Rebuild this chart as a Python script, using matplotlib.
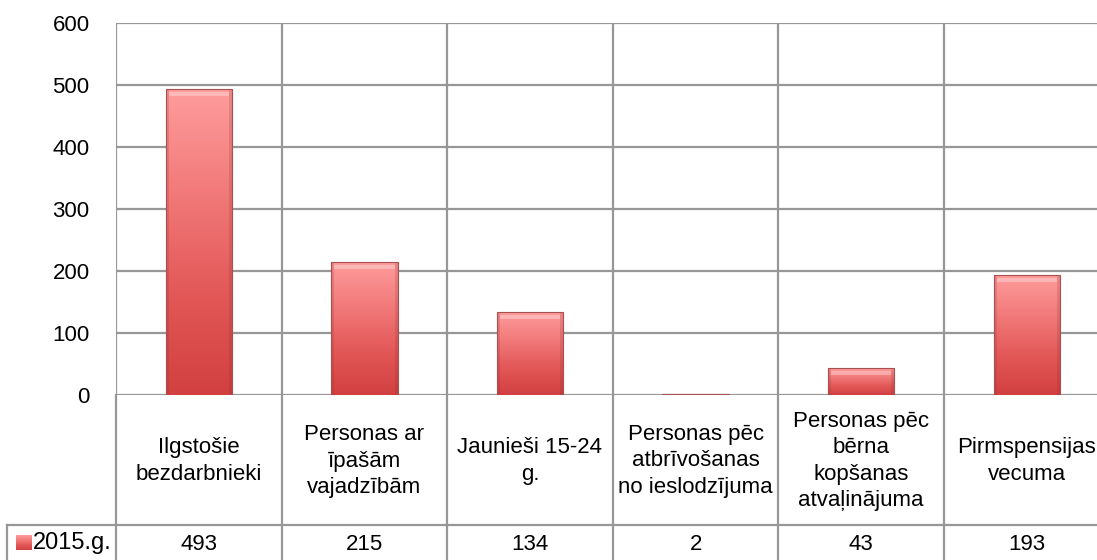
import matplotlib
matplotlib.use('Agg')
import matplotlib.pyplot as plt
import numpy as np
from matplotlib.patches import Rectangle

plt.rcParams['font.family'] = ['Liberation Sans Narrow', 'Liberation Sans', 'DejaVu Sans']

# data
categories = ['Ilgstošie\nbezdarbnieki',
              'Personas ar\nīpašām\nvajadzībām',
              'Jaunieši 15-24\ng.',
              'Personas pēc\natbrīvošanas\nno ieslodzījuma',
              'Personas pēc\nbērna\nkopšanas\natvaļinājuma',
              'Pirmspensijas\nvecuma']
values = [493, 215, 134, 2, 43, 193]
series_name = '2015.g.'
yticks = [0, 100, 200, 300, 400, 500, 600]

W, H = 1097, 560
grid_c = '#979797'
fs = 16

fig = plt.figure(figsize=(W / 100, H / 100), dpi=100)
left_px, top_px, zero_px, cat_w = 116, 23, 395, 165.6
n = len(values)
ax = fig.add_axes([left_px / W, (H - zero_px) / H, n * cat_w / W, (zero_px - top_px) / H])
x = np.arange(n)
ax.set_xlim(-0.5, n - 0.5)
ax.set_ylim(0, 600)
for s in ax.spines.values():
    s.set_visible(False)
ax.set_yticks(yticks)
ax.set_yticklabels([str(t) for t in yticks], fontsize=fs)
ax.tick_params(axis='y', length=0, pad=19)
ax.set_xticks([])
ax.set_xticks(np.arange(-0.5, n), minor=True)
ax.tick_params(axis='x', which='minor', length=0)
ax.grid(axis='y', color=grid_c, lw=1.6)
ax.grid(axis='x', which='minor', color=grid_c, lw=1.6)
ax.set_axisbelow(True)

# gradient bars
px_y = 600 / (zero_px - top_px)   # data units per pixel (y)
px_x = 1 / cat_w                  # data units per pixel (x)
bars = ax.bar(x, values, width=0.4, color='none', edgecolor='#a85050', lw=0.8, zorder=5)
grad = np.linspace(0, 1, 256).reshape(-1, 1)
cmap = matplotlib.colors.LinearSegmentedColormap.from_list(
    'bar', ['#d24040', '#e35858', '#f27a7a', '#ff9c9c'])
for b in bars:
    x0, w, h = b.get_x(), b.get_width(), b.get_height()
    im = ax.imshow(grad, cmap=cmap, aspect='auto', origin='lower',
                   extent=[x0, x0 + w, 0, h], zorder=2)
    im.set_clip_path(b)
    bev = min(h, 7 * px_y)
    # top bevel highlight and darker sides
    ax.add_patch(Rectangle((x0 + 3 * px_x, h - bev), w - 6 * px_x, bev * 0.55,
                           color='white', alpha=0.3, lw=0, zorder=4))
    for sx in (x0, x0 + w - 3 * px_x):
        ax.add_patch(Rectangle((sx, 0), 3 * px_x, h, color='#8a2a2a',
                               alpha=0.18, lw=0, zorder=4))

# data table underneath
tab = fig.add_axes([left_px / W, 0, n * cat_w / W, (H - zero_px) / H])
tab.set_xlim(-0.5, n - 0.5)
tab.set_ylim(H - zero_px, 0)
tab.axis('off')
row1 = 130
legend_x = -0.5 - (left_px - 7) / cat_w
for b in np.arange(-0.5, n):
    tab.plot([b, b], [0, H - zero_px], color=grid_c, lw=1.6, clip_on=False)
tab.plot([legend_x, n - 0.5], [row1, row1], color=grid_c, lw=1.6, clip_on=False)
tab.plot([legend_x, legend_x], [row1, H - zero_px], color=grid_c, lw=1.6, clip_on=False)
for i, c in enumerate(categories):
    tab.text(i, row1 / 2 + 1, c, ha='center', va='center', fontsize=fs,
             linespacing=1.32)
    tab.text(i, row1 + 20, str(values[i]), ha='center', va='center', fontsize=fs)

# legend key
ax_key = fig.add_axes([16 / W, (H - 550) / H, 15 / W, 15 / H])
ax_key.imshow(grad, cmap=cmap, aspect='auto', origin='lower', extent=[0, 1, 0, 1])
ax_key.axis('off')
fig.text(33 / W, (H - 543) / H, series_name, fontsize=fs + 1, va='center', ha='left')

fig.savefig('out.png', dpi=100)
